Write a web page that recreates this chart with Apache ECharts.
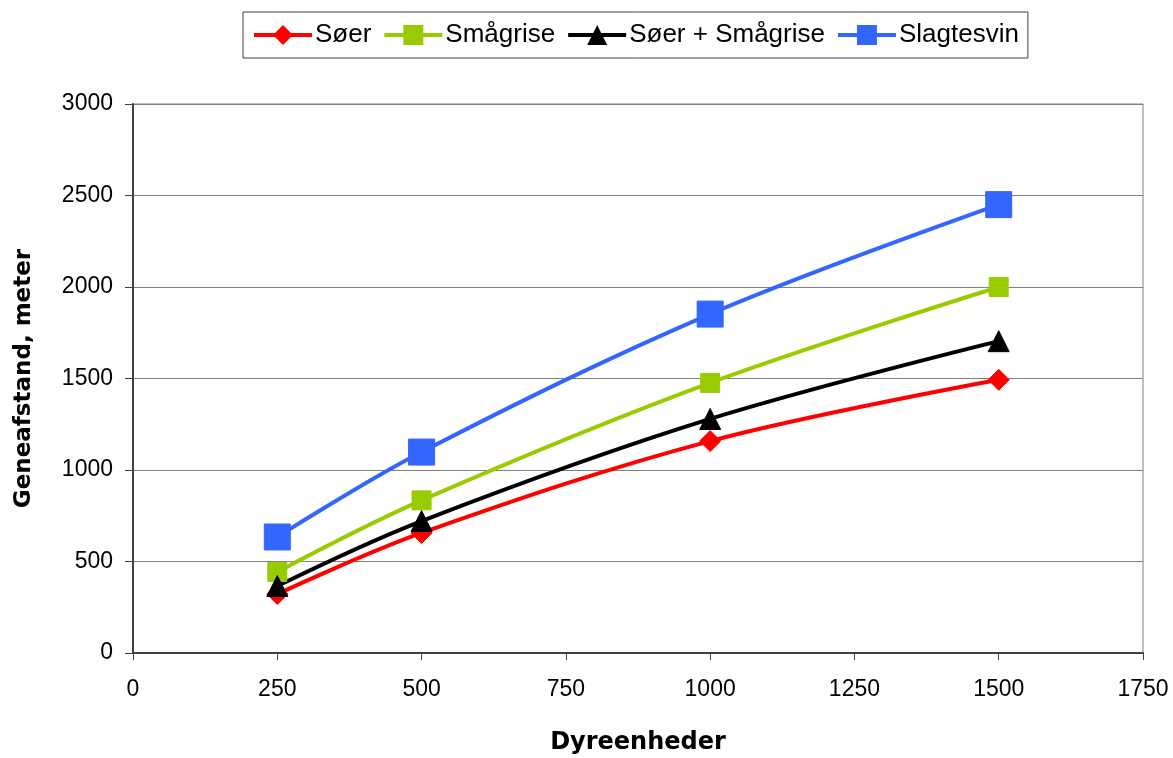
<!DOCTYPE html>
<html>
<head>
<meta charset="utf-8">
<script src="https://cdn.jsdelivr.net/npm/echarts@6/dist/echarts.min.js"></script>
<style>
  html, body { margin: 0; padding: 0; background: #fff; }
  #chart { width: 1173px; height: 758px; }
</style>
</head>
<body>
<div id="chart"></div>
<script>
// Herd size (animal units) and the resulting distance per herd type
const dyreenheder = [250, 500, 1000, 1500];
const soer = [322, 656, 1158, 1493];
const smagrise = [443, 834, 1476, 2000];
const soerSmagrise = [366, 721, 1279, 1704];
const slagtesvin = [634, 1098, 1852, 2450];

const seriesDefs = [
  { name: 'Søer', values: soer, color: '#ff0000', symbol: 'diamond', size: 21 },
  { name: 'Smågrise', values: smagrise, color: '#99cc00', symbol: 'rect', size: 19 },
  { name: 'Søer + Smågrise', values: soerSmagrise, color: '#000000', symbol: 'triangle', size: 21 },
  { name: 'Slagtesvin', values: slagtesvin, color: '#3366ff', symbol: 'rect', size: 26 }
];

const font = 'Liberation Sans, Arial, sans-serif';
const titleFont = 'DejaVu Sans, Liberation Sans, sans-serif';
const plain = v => String(v);

const chart = echarts.init(document.getElementById('chart'));

chart.setOption({
  animation: false,
  backgroundColor: '#ffffff',
  textStyle: { fontFamily: font },
  legend: {
    top: 12,
    left: 243,
    itemGap: 11,
    itemWidth: 58,
    itemHeight: 25,
    padding: [10, 9, 10, 9],
    borderColor: '#404040',
    borderWidth: 1,
    lineStyle: { width: 4 },
    textStyle: { fontFamily: font, fontSize: 26, color: '#000', padding: [0, 0, 0, -2] },
    data: seriesDefs.map(s => s.name)
  },
  grid: {
    left: 133, right: 30, top: 104, bottom: 105,
    outerBoundsMode: 'none',
    containLabel: false,
    show: true,
    borderColor: '#808080',
    borderWidth: 1
  },
  xAxis: {
    type: 'value',
    min: 0, max: 1750, interval: 250,
    name: 'Dyreenheder',
    nameLocation: 'middle',
    nameGap: 78,
    nameTextStyle: { fontFamily: titleFont, fontSize: 24, fontWeight: 'bold', color: '#000' },
    axisLine: { lineStyle: { color: '#404040', width: 2 } },
    axisTick: { show: true, length: 7, lineStyle: { color: '#404040' } },
    axisLabel: { fontFamily: font, fontSize: 23, color: '#000', margin: 25, formatter: plain },
    splitLine: { show: false }
  },
  yAxis: {
    type: 'value',
    min: 0, max: 3000, interval: 500,
    name: 'Geneafstand, meter',
    nameLocation: 'middle',
    nameGap: 97,
    nameRotate: 90,
    nameTextStyle: { fontFamily: titleFont, fontSize: 23, fontWeight: 'bold', color: '#000' },
    axisLine: { show: true, lineStyle: { color: '#404040', width: 2 } },
    axisTick: { show: true, length: 8, lineStyle: { color: '#404040' } },
    axisLabel: { fontFamily: font, fontSize: 23, color: '#000', margin: 20, formatter: plain },
    splitLine: { show: true, lineStyle: { color: '#808080', width: 1 } }
  },
  series: seriesDefs.map(s => ({
    name: s.name,
    type: 'line',
    smooth: 0.35,
    data: dyreenheder.map((x, i) => [x, s.values[i]]),
    symbol: s.symbol,
    symbolSize: s.size,
    showAllSymbol: true,
    lineStyle: { color: s.color, width: 4 },
    itemStyle: { color: s.color, borderColor: s.color },
    emphasis: { disabled: true }
  }))
});
</script>
</body>
</html>
